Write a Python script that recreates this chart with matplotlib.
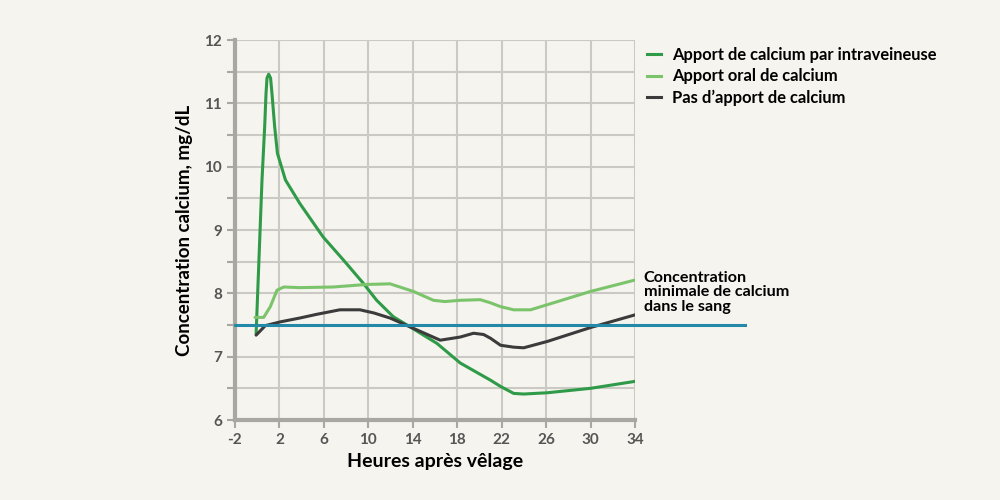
import matplotlib
matplotlib.use('Agg')
import matplotlib.pyplot as plt
from matplotlib.lines import Line2D

plt.rcParams['font.family'] = ['Lato', 'DejaVu Sans']
plt.rcParams['font.weight'] = 'bold'
plt.rcParams['axes.unicode_minus'] = False

# ─── data ───
iv_hours = [-0.1, 0.43, 0.67, 0.79, 0.88, 1.03, 1.2, 1.33, 1.57, 1.82, 2.18, 2.54, 3.83,
            5.93, 7.74, 9.54, 10.75, 12.25, 13.76, 16.17, 18.27, 20.98, 21.9, 23.08,
            23.98, 26.1, 30.0, 34.0]
iv_calcium = [7.36, 9.79, 10.63, 11.15, 11.40, 11.46, 11.40, 11.15, 10.63, 10.21, 10.0,
              9.79, 9.42, 8.89, 8.53, 8.16, 7.89, 7.63, 7.47, 7.21, 6.90, 6.63, 6.53,
              6.42, 6.41, 6.43, 6.50, 6.61]

oral_hours = [-0.2, 0.58, 1.18, 1.78, 2.39, 3.83, 6.84, 9.85, 11.95, 14.06, 15.86,
              16.9, 18.27, 20.07, 21.0, 21.9, 23.08, 24.6, 26.1, 30.0, 34.0]
oral_calcium = [7.62, 7.62, 7.79, 8.05, 8.10, 8.09, 8.10, 8.14, 8.15, 8.03, 7.89,
                7.87, 7.89, 7.90, 7.85, 7.79, 7.74, 7.74, 7.82, 8.03, 8.21]

none_hours = [-0.1, 0.73, 2.09, 3.83, 5.39, 7.44, 9.24, 10.5, 11.95, 13.76, 16.47,
              18.27, 19.47, 20.37, 21.0, 21.9, 23.08, 23.98, 26.1, 30.0, 34.0]
none_calcium = [7.34, 7.49, 7.55, 7.61, 7.67, 7.74, 7.74, 7.69, 7.61, 7.47, 7.26,
                7.31, 7.37, 7.35, 7.29, 7.18, 7.15, 7.14, 7.24, 7.46, 7.66]

threshold = 7.5
x_ticks = [-2, 2, 6, 10, 14, 18, 22, 26, 30, 34]
y_ticks = [6, 7, 8, 9, 10, 11, 12]

series_labels = ['Apport de calcium par intraveineuse', 'Apport oral de calcium',
                 "Pas d\u2019apport de calcium"]
threshold_label = 'Concentration\nminimale de calcium\ndans le sang'

# ─── style ───
bg = '#f5f4ee'
grid_c = '#cbc9c3'
spine_c = '#a9a7a1'
tick_c = '#555555'
colors = ['#2f9a47', '#7cc46b', '#3b3b3b']
blue = '#2489a8'

fig = plt.figure(figsize=(10, 5), dpi=100, facecolor=bg)
ax = fig.add_axes([0.235, 0.16, 0.40, 0.76], facecolor=bg)

ax.set_xlim(-2, 34)
ax.set_ylim(6, 12)
ax.set_xticks(x_ticks)
ax.set_yticks(y_ticks)
ax.set_yticks([v + 0.5 for v in y_ticks[:-1]], minor=True)
ax.grid(True, which='both', color=grid_c, lw=1.5, zorder=0)

for s in ['top', 'right']:
    ax.spines[s].set_visible(False)
for s in ['left', 'bottom']:
    ax.spines[s].set_color(spine_c)
    ax.spines[s].set_linewidth(3)
ax.tick_params(which='both', colors=spine_c, width=1.5, length=6, labelcolor=tick_c,
               labelsize=11)
ax.tick_params(axis='x', pad=3)
for lab in ax.get_xticklabels() + ax.get_yticklabels():
    lab.set_fontweight('bold')

for h, c, col in zip([iv_hours, oral_hours, none_hours],
                     [iv_calcium, oral_calcium, none_calcium], colors):
    ax.plot(h, c, color=col, lw=2.2, solid_capstyle='round', solid_joinstyle='round',
            zorder=3)

ax.axhline(threshold, xmin=0, xmax=1.275, color=blue, lw=2.2, clip_on=False, zorder=4)

ax.set_xlabel('Heures apr\u00e8s v\u00ealage', fontsize=14, fontweight='bold',
              color='black', labelpad=5)
ax.set_ylabel('Concentration calcium, mg/dL', fontsize=13.5, fontweight='bold',
              color='black', labelpad=8)

handles = [Line2D([], [], color=col, lw=2.2) for col in colors]
fig.legend(handles, series_labels, loc='upper left', bbox_to_anchor=(0.647, 0.906),
           frameon=False, handlelength=0.85, handletextpad=0.65,
           labelspacing=0.32, borderpad=0, borderaxespad=0,
           prop={'weight': 'bold', 'size': 11.9})

ax.text(1.022, threshold + 0.18, threshold_label, transform=ax.get_yaxis_transform(),
        ha='left', va='bottom', fontsize=11.6, fontweight='bold', color='black',
        linespacing=1.05)

fig.savefig('out.png', dpi=100, facecolor=bg)
